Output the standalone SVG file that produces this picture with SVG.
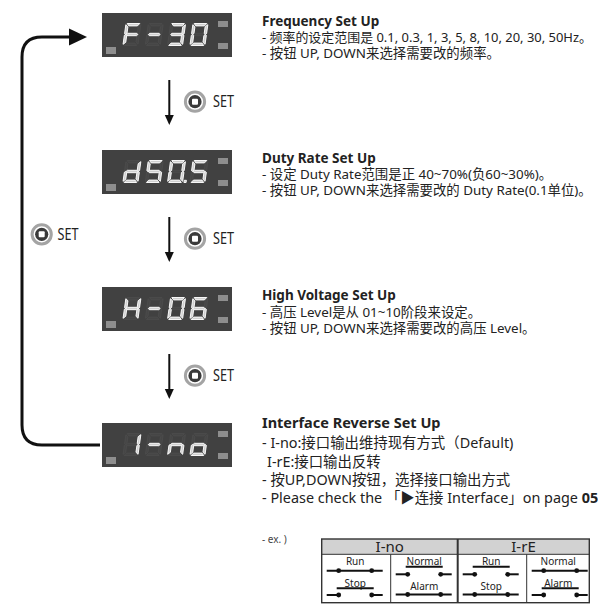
<svg xmlns="http://www.w3.org/2000/svg" xmlns:xlink="http://www.w3.org/1999/xlink" width="598" height="605" viewBox="0 0 598 605">
<style>
.bg{fill:#414141}
.pad{fill:#8e8e8e}
.off{fill:#464646;stroke:#505050;stroke-width:0.6}
.on{fill:#cfcfcf;stroke:#ffffff;stroke-width:0.9}
.t{font-family:"Noto Sans","Noto Sans CJK SC",sans-serif;font-size:13.4px;fill:#222}
.t4{font-family:"Noto Sans","Noto Sans CJK SC",sans-serif;font-size:14.4px;fill:#222}
.h{font-family:"Noto Sans","Noto Sans CJK SC",sans-serif;font-size:13.5px;font-weight:bold;fill:#222}
.set{font-family:"Noto Sans",sans-serif;font-size:15.5px;fill:#222}
.lbl{font-family:"Noto Sans",sans-serif;font-size:10px;fill:#222;text-anchor:middle}
.hd{font-family:"Noto Sans",sans-serif;font-size:15px;fill:#222;text-anchor:middle}
.wire{stroke:#111;stroke-width:2;fill:none}
.ring{fill:none;stroke:#a4a4a4;stroke-width:3}
.core{fill:#3a3a3a}
</style>
<defs>
<polygon id="sa" points="1.2,0 13.8,0 11.8,2.4 3.2,2.4"/>
<polygon id="sb" points="15,1.2 15,10.2 13.8,11 12.6,10 12.6,3.2"/>
<polygon id="sc" points="13.8,11 15,11.8 15,20.8 12.6,18.8 12.6,12"/>
<polygon id="sd" points="3.2,19.6 11.8,19.6 13.8,22 1.2,22"/>
<polygon id="se" points="0,11.8 1.2,11 2.4,12 2.4,18.8 0,20.8"/>
<polygon id="sf" points="0,1.2 2.4,3.2 2.4,10 1.2,11 0,10.2"/>
<polygon id="sg" points="1.6,11 2.8,9.8 12.2,9.8 13.4,11 12.2,12.2 2.8,12.2"/>
<g id="d8" class="off"><use href="#sa"/><use href="#sb"/><use href="#sc"/><use href="#sd"/><use href="#se"/><use href="#sf"/><use href="#sg"/></g>
<g id="panel">
<rect class="bg" x="102" y="13" width="130" height="44"/>
<rect class="pad" x="106" y="47" width="10" height="7"/>
<rect class="pad" x="218" y="21" width="10" height="6"/>
<rect class="pad" x="218" y="43" width="10" height="6"/>
<use href="#d8" transform="translate(126,23.5) skewX(-8)"/>
<use href="#d8" transform="translate(148.3,23.5) skewX(-8)"/>
<use href="#d8" transform="translate(170.6,23.5) skewX(-8)"/>
<use href="#d8" transform="translate(193,23.5) skewX(-8)"/>
</g>
<g id="seticon">
<circle class="ring" cx="0" cy="0" r="9.6"/>
<circle class="core" cx="0" cy="0" r="6.6"/>
<rect x="-3" y="-3" width="6" height="6" rx="1" fill="#fff"/>
</g>
<polygon id="dnhead" points="-4.5,0 4.5,0 0,10" fill="#111"/>
</defs>

<g id="connectors">
<path d="M100 445 L42 445 Q22 445 22 425 L22 57 Q22 37 42 37 L72 37" fill="none" stroke="#111" stroke-width="3"/>
<polygon points="69,28.5 87,37 69,45.5" fill="#111"/>
<line class="wire" x1="169.3" y1="80" x2="169.3" y2="116"/>
<use href="#dnhead" x="169.3" y="115"/>
<line class="wire" x1="169.3" y1="217" x2="169.3" y2="253"/>
<use href="#dnhead" x="169.3" y="252"/>
<line class="wire" x1="169.3" y1="354" x2="169.3" y2="390"/>
<use href="#dnhead" x="169.3" y="389"/>
</g>

<g id="set-1">
<use href="#seticon" x="195" y="101.7"/>
<text class="set" x="213" y="107.2" textLength="21" lengthAdjust="spacingAndGlyphs">SET</text>
</g>
<g id="set-2">
<use href="#seticon" x="195" y="238.7"/>
<text class="set" x="213" y="244.2" textLength="21" lengthAdjust="spacingAndGlyphs">SET</text>
</g>
<g id="set-3">
<use href="#seticon" x="195" y="375.7"/>
<text class="set" x="213" y="381.2" textLength="21" lengthAdjust="spacingAndGlyphs">SET</text>
</g>
<g id="set-loop">
<use href="#seticon" x="41.7" y="234.3"/>
<text class="set" x="57.5" y="239.8" textLength="21" lengthAdjust="spacingAndGlyphs">SET</text>
</g>

<g id="display-f30">
<use href="#panel"/>
<g class="on" transform="translate(126,23.5) skewX(-8)"><use href="#sa"/><use href="#se"/><use href="#sf"/><use href="#sg"/></g>
<g class="on" transform="translate(148.3,23.5) skewX(-8)"><use href="#sg"/></g>
<g class="on" transform="translate(170.6,23.5) skewX(-8)"><use href="#sa"/><use href="#sb"/><use href="#sc"/><use href="#sd"/><use href="#sg"/></g>
<g class="on" transform="translate(193,23.5) skewX(-8)"><use href="#sa"/><use href="#sb"/><use href="#sc"/><use href="#sd"/><use href="#se"/><use href="#sf"/></g>
</g>

<g id="display-d505" transform="translate(0,137)">
<use href="#panel"/>
<g class="on" transform="translate(126,23.5) skewX(-8)"><use href="#sb"/><use href="#sc"/><use href="#sd"/><use href="#se"/><use href="#sg"/></g>
<g class="on" transform="translate(148.3,23.5) skewX(-8)"><use href="#sa"/><use href="#sc"/><use href="#sd"/><use href="#sf"/><use href="#sg"/></g>
<g class="on" transform="translate(170.6,23.5) skewX(-8)"><use href="#sa"/><use href="#sb"/><use href="#sc"/><use href="#sd"/><use href="#se"/><use href="#sf"/><rect x="16.4" y="19.8" width="2.2" height="2.2"/></g>
<g class="on" transform="translate(193,23.5) skewX(-8)"><use href="#sa"/><use href="#sc"/><use href="#sd"/><use href="#sf"/><use href="#sg"/></g>
</g>

<g id="display-h06" transform="translate(0,274)">
<use href="#panel"/>
<g class="on" transform="translate(126,23.5) skewX(-8)"><use href="#sb"/><use href="#sc"/><use href="#se"/><use href="#sf"/><use href="#sg"/></g>
<g class="on" transform="translate(148.3,23.5) skewX(-8)"><use href="#sg"/></g>
<g class="on" transform="translate(170.6,23.5) skewX(-8)"><use href="#sa"/><use href="#sb"/><use href="#sc"/><use href="#sd"/><use href="#se"/><use href="#sf"/></g>
<g class="on" transform="translate(193,23.5) skewX(-8)"><use href="#sa"/><use href="#sc"/><use href="#sd"/><use href="#se"/><use href="#sf"/><use href="#sg"/></g>
</g>

<g id="display-ino" transform="translate(0,410)">
<use href="#panel"/>
<g class="on" transform="translate(126,23.5) skewX(-8)"><use href="#sb"/><use href="#sc"/></g>
<g class="on" transform="translate(148.3,23.5) skewX(-8)"><use href="#sg"/></g>
<g class="on" transform="translate(170.6,23.5) skewX(-8)"><use href="#sc"/><use href="#se"/><use href="#sg"/></g>
<g class="on" transform="translate(193,23.5) skewX(-8)"><use href="#sc"/><use href="#sd"/><use href="#se"/><use href="#sg"/></g>
</g>

<g id="desc-frequency">
<text class="h" x="262" y="26">Frequency Set Up</text>
<text class="t" x="262" y="42" style="font-size:13px" textLength="330" lengthAdjust="spacingAndGlyphs">- 频率的设定范围是 0.1, 0.3, 1, 3, 5, 8, 10, 20, 30, 50Hz。</text>
<text class="t" x="262" y="58">- 按钮 UP, DOWN来选择需要改的频率。</text>
</g>
<g id="desc-duty">
<text class="h" x="262" y="163">Duty Rate Set Up</text>
<text class="t" x="262" y="179">- 设定 Duty Rate范围是正 40~70%(负60~30%)。</text>
<text class="t" x="262" y="195">- 按钮 UP, DOWN来选择需要改的 Duty Rate(0.1单位)。</text>
</g>
<g id="desc-voltage">
<text class="h" x="262" y="300">High Voltage Set Up</text>
<text class="t" x="262" y="316.5">- 高压 Level是从 01~10阶段来设定。</text>
<text class="t" x="262" y="332.5">- 按钮 UP, DOWN来选择需要改的高压 Level。</text>
</g>
<g id="desc-interface">
<text class="h" x="262" y="428" style="font-size:14.5px">Interface Reverse Set Up</text>
<text class="t4" x="262" y="448">- I-no:接口输出维持现有方式（Default)</text>
<text class="t4" x="267" y="466.5">I-rE:接口输出反转</text>
<text class="t4" x="262" y="485">- 按UP,DOWN按钮，选择接口输出方式</text>
<text class="t4" x="262" y="503">- Please check the 「▶连接 Interface」on page <tspan font-weight="bold">05</tspan></text>
<text class="t" x="262" y="543" style="font-size:10px;fill:#444">- ex. )</text>
</g>

<g id="interface-table">
<rect x="321.7" y="539" width="267.6" height="15.3" fill="#d2d2d2"/>
<rect x="321.7" y="539" width="267.6" height="63.7" fill="none" stroke="#333" stroke-width="1.4"/>
<line x1="321.7" y1="554.3" x2="589.3" y2="554.3" stroke="#333" stroke-width="1"/>
<line x1="457.7" y1="539" x2="457.7" y2="602.7" stroke="#333" stroke-width="2"/>
<line x1="390.7" y1="554.3" x2="390.7" y2="602.7" stroke="#333" stroke-width="1"/>
<line x1="526.7" y1="554.3" x2="526.7" y2="602.7" stroke="#333" stroke-width="1"/>
<text class="hd" x="389.7" y="552.3">I-no</text>
<text class="hd" x="523.5" y="552.3">I-rE</text>
<g id="cell-1" transform="translate(321.7,0)">
<text class="lbl" x="33.5" y="565">Run</text>
<line class="wire" x1="5" y1="570.7" x2="61" y2="570.7"/>
<circle cx="17" cy="570.7" r="2.4" fill="#111"/><circle cx="50" cy="570.7" r="2.4" fill="#111"/>
<text class="lbl" x="33.5" y="586.5">Stop</text>
<line class="wire" x1="15" y1="588.3" x2="52" y2="588.3"/>
<line class="wire" x1="5" y1="595" x2="17" y2="595"/><line class="wire" x1="50" y1="595" x2="61" y2="595"/>
<circle cx="17" cy="595" r="2.4" fill="#111"/><circle cx="50" cy="595" r="2.4" fill="#111"/>
</g>
<g id="cell-2" transform="translate(390.7,0)">
<text class="lbl" x="33.5" y="565">Normal</text>
<line class="wire" x1="15" y1="566.7" x2="52" y2="566.7"/>
<line class="wire" x1="5" y1="574.3" x2="17" y2="574.3"/><line class="wire" x1="50" y1="574.3" x2="61" y2="574.3"/>
<circle cx="17" cy="574.3" r="2.4" fill="#111"/><circle cx="50" cy="574.3" r="2.4" fill="#111"/>
<text class="lbl" x="33.5" y="589.5">Alarm</text>
<line class="wire" x1="5" y1="594.5" x2="61" y2="594.5"/>
<circle cx="17" cy="594.5" r="2.4" fill="#111"/><circle cx="50" cy="594.5" r="2.4" fill="#111"/>
</g>
<g id="cell-3" transform="translate(457.7,0)">
<text class="lbl" x="33.5" y="565">Run</text>
<line class="wire" x1="15" y1="566.7" x2="52" y2="566.7"/>
<line class="wire" x1="5" y1="574.3" x2="17" y2="574.3"/><line class="wire" x1="50" y1="574.3" x2="61" y2="574.3"/>
<circle cx="17" cy="574.3" r="2.4" fill="#111"/><circle cx="50" cy="574.3" r="2.4" fill="#111"/>
<text class="lbl" x="33.5" y="589.5">Stop</text>
<line class="wire" x1="5" y1="594.5" x2="61" y2="594.5"/>
<circle cx="17" cy="594.5" r="2.4" fill="#111"/><circle cx="50" cy="594.5" r="2.4" fill="#111"/>
</g>
<g id="cell-4" transform="translate(526.7,0)">
<text class="lbl" x="31.5" y="565">Normal</text>
<line class="wire" x1="5" y1="570.7" x2="61" y2="570.7"/>
<circle cx="17" cy="570.7" r="2.4" fill="#111"/><circle cx="50" cy="570.7" r="2.4" fill="#111"/>
<text class="lbl" x="31.5" y="586.5">Alarm</text>
<line class="wire" x1="15" y1="588.3" x2="52" y2="588.3"/>
<line class="wire" x1="5" y1="595" x2="17" y2="595"/><line class="wire" x1="50" y1="595" x2="61" y2="595"/>
<circle cx="17" cy="595" r="2.4" fill="#111"/><circle cx="50" cy="595" r="2.4" fill="#111"/>
</g>
</g>
</svg>
